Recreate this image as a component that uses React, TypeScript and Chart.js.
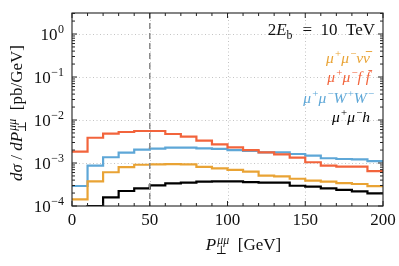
import React, { useEffect, useRef } from 'react';
import { Chart, registerables } from 'chart.js';
Chart.register(...registerables);

// ---- data ----
const binEdges = [0, 10, 20, 30, 40, 50, 60, 70, 80, 90, 100, 110, 120, 130, 140, 150, 160, 170, 180, 190, 200];
const nunu = [1.43e-4, 3.73e-4, 6.1e-4, 8.0e-4, 9.1e-4, 9.3e-4, 9.4e-4, 9.3e-4, 8.1e-4, 7.5e-4, 6.9e-4, 6.3e-4, 5.1e-4, 4.9e-4, 4.3e-4, 3.9e-4, 3.7e-4, 3.4e-4, 3.25e-4, 2.9e-4];
const ffbar = [1.83e-3, 3.87e-3, 4.8e-3, 5.26e-3, 5.55e-3, 5.55e-3, 4.72e-3, 4.09e-3, 3.3e-3, 2.72e-3, 2.32e-3, 2.0e-3, 1.77e-3, 1.59e-3, 1.33e-3, 1.04e-3, 8.65e-4, 8.2e-4, 8.2e-4, 6.5e-4];
const wwpm = [2.92e-4, 8.65e-4, 1.36e-3, 1.74e-3, 2.04e-3, 2.15e-3, 2.27e-3, 2.27e-3, 2.2e-3, 2.12e-3, 2.0e-3, 1.9e-3, 1.77e-3, 1.77e-3, 1.62e-3, 1.48e-3, 1.29e-3, 1.24e-3, 1.22e-3, 1.11e-3];
const higgs = [3e-5, 9.9e-5, 1.59e-4, 2.23e-4, 2.58e-4, 3.03e-4, 3.37e-4, 3.48e-4, 3.67e-4, 3.74e-4, 3.74e-4, 3.61e-4, 3.48e-4, 3.48e-4, 2.96e-4, 2.81e-4, 2.58e-4, 2.36e-4, 2.2e-4, 1.96e-4];
const xTickValues = [0, 50, 100, 150, 200];
const yDecades = [-4, -3, -2, -1, 0];
const cutValue = 50;

const COL_ORANGE = '#E9A334';
const COL_RED = '#F2643C';
const COL_BLUE = '#5EA7D7';
const COL_BLACK = '#000000';

type Seg = { t: string; i?: boolean; sup?: string; sub?: string; supI?: boolean; subI?: boolean; bar?: boolean };

const FAM = '"Liberation Serif", "DejaVu Serif", serif';
const fnt = (size: number, italic?: boolean) => `${italic ? 'italic ' : ''}${size}px ${FAM}`;

function segWidth(ctx: CanvasRenderingContext2D, s: Seg, size: number) {
  ctx.font = fnt(size, s.i);
  const w = ctx.measureText(s.t).width;
  let sw = 0;
  const ss = size * 0.7;
  if (s.sup) { ctx.font = fnt(ss, s.supI); sw = Math.max(sw, ctx.measureText(s.sup).width); }
  if (s.sub) { ctx.font = fnt(ss, s.subI); sw = Math.max(sw, ctx.measureText(s.sub).width); }
  const gap = (s.sup || s.sub) ? (s.i ? 1.2 : 0.5) : 0;
  return { w, sw, gap, total: w + sw + gap };
}

function drawRich(ctx: CanvasRenderingContext2D, segs: Seg[], x: number, y: number, size: number, align: 'left' | 'right' | 'center', color: string) {
  let total = 0;
  const ms = segs.map((s) => { const m = segWidth(ctx, s, size); total += m.total; return m; });
  let cx = align === 'left' ? x : align === 'right' ? x - total : x - total / 2;
  ctx.save();
  ctx.fillStyle = color;
  ctx.strokeStyle = color;
  ctx.textAlign = 'left';
  ctx.textBaseline = 'alphabetic';
  const ss = size * 0.7;
  segs.forEach((s, k) => {
    const m = ms[k];
    ctx.font = fnt(size, s.i);
    ctx.fillText(s.t, cx, y);
    if (s.bar) {
      ctx.lineWidth = Math.max(0.8, size * 0.06);
      ctx.beginPath();
      const off = s.i ? size * 0.14 : 0;
      ctx.moveTo(cx + off + 0.5, y - size * 0.74);
      ctx.lineTo(cx + off + m.w, y - size * 0.74);
      ctx.stroke();
    }
    const sx = cx + m.w + m.gap;
    if (s.sup) { ctx.font = fnt(ss, s.supI); ctx.fillText(s.sup, sx, y - size * 0.38); }
    if (s.sub) { ctx.font = fnt(ss, s.subI); ctx.fillText(s.sub, sx - (s.i ? 1.5 : 0), y + size * 0.22); }
    cx += m.total;
  });
  ctx.restore();
}

const mu: Seg[] = [{ t: 'μ', i: true, sup: '+' }, { t: 'μ', i: true, sup: '−' }];
const labelNunu: Seg[] = [...mu, { t: 'ν', i: true }, { t: 'ν', i: true, bar: true }];
const labelFf: Seg[] = [...mu, { t: 'f', i: true }, { t: ' ' }, { t: 'f', i: true, bar: true }];
const labelWw: Seg[] = [...mu, { t: 'W', i: true, sup: '+' }, { t: 'W', i: true, sup: '−' }];
const labelH: Seg[] = [...mu, { t: 'h', i: true }];
const energyLabel: Seg[] = [{ t: '2' }, { t: 'E', i: true, sub: 'b' }, { t: '  =  10  TeV' }];
const xTitle: Seg[] = [{ t: 'P', i: true, sub: '⊥', sup: 'μμ', supI: true }, { t: '  [GeV]' }];
const yTitle: Seg[] = [{ t: 'dσ', i: true }, { t: ' / ' }, { t: 'dP', i: true, sub: '⊥', sup: 'μμ', supI: true }, { t: '  [pb/GeV]' }];

const overlay = {
  id: 'overlay',
  beforeDatasetsDraw(chart: any) {
    const { ctx, chartArea: a, scales } = chart;
    const xs = scales.x, ys = scales.y;
    ctx.save();
    ctx.strokeStyle = '#c4c4c4';
    ctx.lineWidth = 1;
    ctx.setLineDash([1, 2.5]);
    xTickValues.forEach((v) => {
      if (v === 0 || v === 200) return;
      const px = Math.round(xs.getPixelForValue(v)) + 0.5;
      ctx.beginPath(); ctx.moveTo(px, a.top); ctx.lineTo(px, a.bottom); ctx.stroke();
    });
    yDecades.forEach((d) => {
      if (d === -4) return;
      const py = Math.round(ys.getPixelForValue(Math.pow(10, d))) + 0.5;
      ctx.beginPath(); ctx.moveTo(a.left, py); ctx.lineTo(a.right, py); ctx.stroke();
    });
    ctx.restore();
  },
  afterDatasetsDraw(chart: any) {
    const { ctx, chartArea: a, scales } = chart;
    const xs = scales.x, ys = scales.y;
    ctx.save();
    // cut line
    ctx.strokeStyle = '#8c8c8c';
    ctx.lineWidth = 1.5;
    ctx.setLineDash([6, 4]);
    const cx = xs.getPixelForValue(cutValue);
    ctx.beginPath(); ctx.moveTo(cx, a.top); ctx.lineTo(cx, a.bottom); ctx.stroke();
    ctx.setLineDash([]);
    // frame
    ctx.strokeStyle = '#222';
    ctx.lineWidth = 1.1;
    ctx.strokeRect(a.left, a.top, a.right - a.left, a.bottom - a.top);
    // x ticks
    ctx.lineWidth = 1;
    for (let v = 0; v <= 200; v += 10) {
      const px = xs.getPixelForValue(v);
      const len = v % 50 === 0 ? 5 : 3;
      ctx.beginPath();
      ctx.moveTo(px, a.bottom); ctx.lineTo(px, a.bottom - len);
      ctx.moveTo(px, a.top); ctx.lineTo(px, a.top + len);
      ctx.stroke();
    }
    // y ticks
    for (let d = -4; d <= 0; d++) {
      for (let k = 1; k <= 9; k++) {
        const v = k * Math.pow(10, d);
        if (v > ys.max) break;
        const py = ys.getPixelForValue(v);
        const len = k === 1 ? 5 : 3;
        ctx.beginPath();
        ctx.moveTo(a.left, py); ctx.lineTo(a.left + len, py);
        ctx.moveTo(a.right, py); ctx.lineTo(a.right - len, py);
        ctx.stroke();
      }
    }
    // x tick labels
    ctx.fillStyle = '#111';
    ctx.font = fnt(17);
    ctx.textAlign = 'center';
    ctx.textBaseline = 'alphabetic';
    xTickValues.forEach((v) => {
      ctx.fillText(String(v), xs.getPixelForValue(v), a.bottom + 19);
    });
    // y tick labels
    yDecades.forEach((d) => {
      const py = ys.getPixelForValue(Math.pow(10, d));
      const ex = d === 0 ? '0' : '−' + String(-d);
      ctx.font = fnt(12);
      const ew = ctx.measureText(ex).width;
      const right = a.left - 8;
      ctx.textAlign = 'right';
      ctx.fillText(ex, right, py - 1.5);
      ctx.font = fnt(17);
      ctx.fillText('10', right - ew - 0.5, py + 5.5);
    });
    ctx.restore();
    // titles
    drawRich(ctx, xTitle, (a.left + a.right) / 2 + 16, a.bottom + 44, 17, 'center', '#111');
    ctx.save();
    ctx.translate(22, 113);
    ctx.rotate(-Math.PI / 2);
    drawRich(ctx, yTitle, 0, 0, 17, 'center', '#111');
    ctx.restore();
    // annotations
    drawRich(ctx, energyLabel, a.right - 8, a.top + 22, 17, 'right', '#111');
    const lx = a.right - 13;
    drawRich(ctx, labelNunu, lx, 63, 15.5, 'right', COL_ORANGE);
    drawRich(ctx, labelFf, lx, 82, 15.5, 'right', COL_RED);
    drawRich(ctx, labelWw, lx + 4, 103, 15.5, 'right', COL_BLUE);
    drawRich(ctx, labelH, lx, 122, 15.5, 'right', COL_BLACK);
  },
};

const toPoints = (vals: number[]) => binEdges.map((x, i) => ({ x, y: vals[Math.min(i, vals.length - 1)] }));

export default function App() {
  const ref = useRef<HTMLCanvasElement | null>(null);
  useEffect(() => {
    if (!ref.current) return;
    const mk = (label: string, vals: number[], color: string) => ({
      label, data: toPoints(vals), borderColor: color, borderWidth: 2.2, stepped: true as const,
      pointRadius: 0, fill: false, borderJoinStyle: 'miter' as const, borderCapStyle: 'butt' as const,
    });
    const chart = new Chart(ref.current, {
      type: 'line',
      data: {
        datasets: [
          mk('μ+μ−νν̄', nunu, COL_ORANGE),
          mk('μ+μ−ff̄', ffbar, COL_RED),
          mk('μ+μ−W+W−', wwpm, COL_BLUE),
          mk('μ+μ−h', higgs, COL_BLACK),
        ],
      },
      options: {
        animation: false,
        responsive: false,
        devicePixelRatio: 1,
        layout: { padding: { left: 72, right: 16, top: 13, bottom: 60 } },
        plugins: { legend: { display: false }, tooltip: { enabled: false } },
        scales: {
          x: { type: 'linear', min: 0, max: 200, display: false },
          y: { type: 'logarithmic', min: 1e-4, max: 3.08, display: false },
        },
      },
      plugins: [overlay],
    });
    return () => chart.destroy();
  }, []);
  return (
    <div style={{ position: 'fixed', left: 0, top: 0, width: 399, height: 266, background: '#fff' }}>
      <canvas ref={ref} width={399} height={266} style={{ display: 'block', width: 399, height: 266 }} />
    </div>
  );
}
